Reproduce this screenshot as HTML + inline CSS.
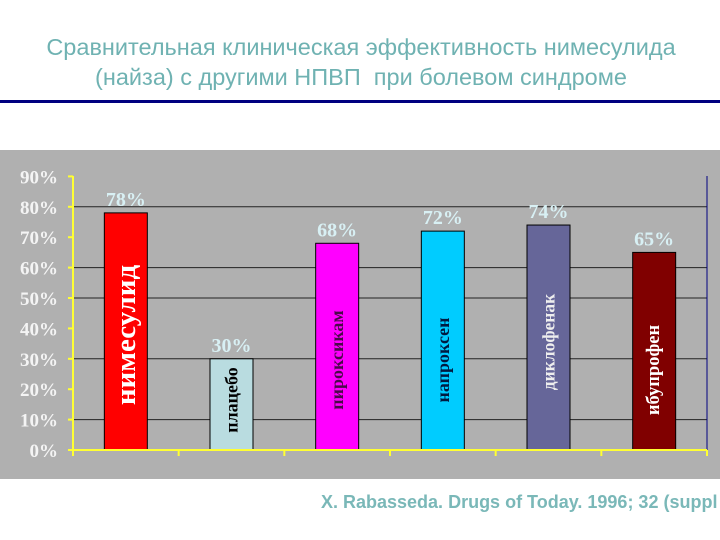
<!DOCTYPE html>
<html><head><meta charset="utf-8"><style>
body{margin:0;width:720px;height:540px;background:#fff;overflow:hidden;position:relative;font-family:"Liberation Sans",sans-serif}
.title{position:absolute;left:0;width:722px;top:32px;text-align:center;color:#6fb2b2;font-size:23.5px;line-height:30px}
.rule{position:absolute;left:0;top:100px;width:720px;height:3px;background:#000080}
.cite{position:absolute;left:321px;top:492px;white-space:nowrap;font-weight:bold;font-size:18px;color:#7ab8b8}
</style></head><body>
<div class="title">Сравнительная клиническая эффективность нимесулида<br>(найза) с другими НПВП&nbsp; при болевом синдроме</div>
<div class="rule"></div>
<svg id="chart" style="position:absolute;left:0;top:0" width="720" height="540"></svg>
<div class="cite">X. Rabasseda. Drugs of Today. 1996; 32 (suppl</div>
<script>
const categories=["нимесулид","плацебо","пироксикам","напроксен","диклофенак","ибупрофен"];
const values=[78,30,68,72,74,65];
const tickLabels=["0%","10%","20%","30%","40%","50%","60%","70%","80%","90%"];
const gridValues=[10,30,50,60,80];
const colors=["#ff0000","#b9dce0","#ff00ff","#00ccff","#666699","#800000"];
const textColors=["#ffffff","#000000","#4a0a4a","#001a40","#eeeeee","#ffffff"];
const labelSizes=[29,18,18,18,17.5,18.5];
const labelCenters=[335,400,360,360,342,370];
const NS="http://www.w3.org/2000/svg";
const svg=document.getElementById('chart');
const x0=73,x1=707,y0=450,pxPer=3.04;
const y=v=>y0-v*pxPer;
const bw=(x1-x0)/categories.length;
const cx=i=>x0+bw*(i+0.5);
function mk(t,a){const e=document.createElementNS(NS,t);for(const k in a)e.setAttribute(k,a[k]);svg.appendChild(e);return e;}
const bg=mk('rect',{x:0,y:150,width:720,height:329,fill:'#b0b0b0'});


gridValues.forEach(v=>{const l=mk('line',{x1:x0,x2:x1,y1:y(v),y2:y(v),stroke:'#222',"stroke-width":1});

});
const rl=mk('line',{x1:x1,x2:x1,y1:176,y2:y0,stroke:'#000080',"stroke-width":1});


values.forEach((v,i)=>{
 const r=mk('rect',{x:cx(i)-21.5,y:y(v),width:43,height:y0-y(v),fill:colors[i],stroke:'#000',"stroke-width":1});
 
 
 const t=mk('text',{x:cx(i),y:y(v)-7,"text-anchor":"middle",fill:'#d8f0f4',"font-family":"Liberation Serif, serif","font-weight":"bold","font-size":20});
 t.textContent=v+'%';
 
 
 const c=mk('text',{x:0,y:0,"text-anchor":"middle","dominant-baseline":"central",fill:textColors[i],"font-family":"Liberation Serif, serif","font-weight":"bold","font-size":labelSizes[i],transform:`translate(${cx(i)},${labelCenters[i]}) rotate(-90)`});
 c.textContent=categories[i];
 
 
});
const ya=mk('line',{x1:x0,x2:x0,y1:176,y2:y0,stroke:'#ffff33',"stroke-width":2});


const xa=mk('line',{x1:x0-5,x2:x1,y1:y0,y2:y0,stroke:'#ffff33',"stroke-width":2});


tickLabels.forEach((s,i)=>{
 const v=i*10;
 const tk=mk('line',{x1:x0-5,x2:x0,y1:y(v),y2:y(v),stroke:'#ffff33',"stroke-width":2});
 
 
 const t=mk('text',{x:58,y:y(v)+7,"text-anchor":"end",fill:'#f4f4f4',"font-family":"Liberation Serif, serif","font-weight":"bold","font-size":19});
 t.textContent=s;
 
 
});
for(let i=0;i<=categories.length;i++){
 const tk=mk('line',{x1:x0+bw*i,x2:x0+bw*i,y1:y0,y2:y0+6,stroke:'#ffff33',"stroke-width":2});
 
 
}
</script>
</body></html>
